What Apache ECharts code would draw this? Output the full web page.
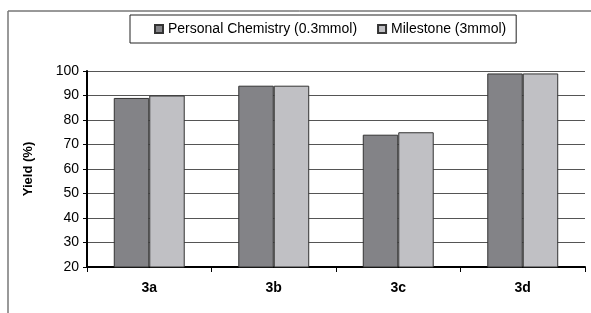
<!DOCTYPE html>
<html>
<head>
<meta charset="utf-8">
<script src="https://cdn.jsdelivr.net/npm/echarts@6/dist/echarts.min.js"></script>
<style>
  html, body { margin: 0; padding: 0; background: #fff; }
  #chart { width: 591px; height: 313px; }
</style>
</head>
<body>
<div id="chart"></div>
<script>
// yield per compound, two microwave setups
const categories = ['3a', '3b', '3c', '3d']
const personalChem = [89, 94, 74, 99]
const milestone = [90, 94, 75, 99]
const seriesNames = ['Personal Chemistry (0.3mmol)', 'Milestone (3mmol)']

const font = 'Liberation Sans, Arial, sans-serif'

let option = {
  animation: false,
  backgroundColor: '#fff',
  textStyle: { fontFamily: font },
  legend: {
    left: 130,
    top: 15,
    icon: 'rect',
    itemWidth: 8,
    itemHeight: 8,
    itemGap: 20,
    padding: [7, 10, 7, 24],
    borderColor: '#222',
    borderWidth: 1,
    textStyle: { fontSize: 14, color: '#000', fontFamily: font },
    data: seriesNames
  },
  grid: { left: 87, right: 6, top: 71, bottom: 46 },
  xAxis: {
    type: 'category',
    data: categories,
    axisLine: { lineStyle: { color: '#000', width: 2 } },
    axisTick: { show: true, inside: false, length: 5, lineStyle: { color: '#000' } },
    axisLabel: { fontSize: 14, fontWeight: 'bold', color: '#000', margin: 14 }
  },
  yAxis: {
    type: 'value',
    min: 20,
    max: 100,
    interval: 10,
    name: 'Yield (%)',
    nameLocation: 'middle',
    nameGap: 52,
    nameTextStyle: { fontSize: 13, fontWeight: 'bold', color: '#000' },
    axisLine: { show: true, lineStyle: { color: '#000', width: 2 } },
    axisTick: { show: true, length: 4, lineStyle: { color: '#000' } },
    axisLabel: { fontSize: 14, color: '#000', margin: 8 },
    splitLine: { lineStyle: { color: '#555', width: 1 } }
  },
  series: [
    {
      name: seriesNames[0],
      type: 'bar',
      data: personalChem,
      barGap: '0%',
      barCategoryGap: '43%',
      itemStyle: { color: '#838387', borderColor: '#333', borderWidth: 1 }
    },
    {
      name: seriesNames[1],
      type: 'bar',
      data: milestone,
      itemStyle: { color: '#c0c0c4', borderColor: '#333', borderWidth: 1 }
    }
  ],
  graphic: [
    // outer frame of the chart area (top and left edges only visible)
    { type: 'line', shape: { x1: 8, y1: 11, x2: 591, y2: 11 }, style: { stroke: '#333', lineWidth: 1 } },
    { type: 'line', shape: { x1: 8, y1: 11, x2: 8, y2: 313 }, style: { stroke: '#777', lineWidth: 1.5 } }
  ]
}
echarts.init(document.getElementById('chart')).setOption(option)
</script>
</body>
</html>
